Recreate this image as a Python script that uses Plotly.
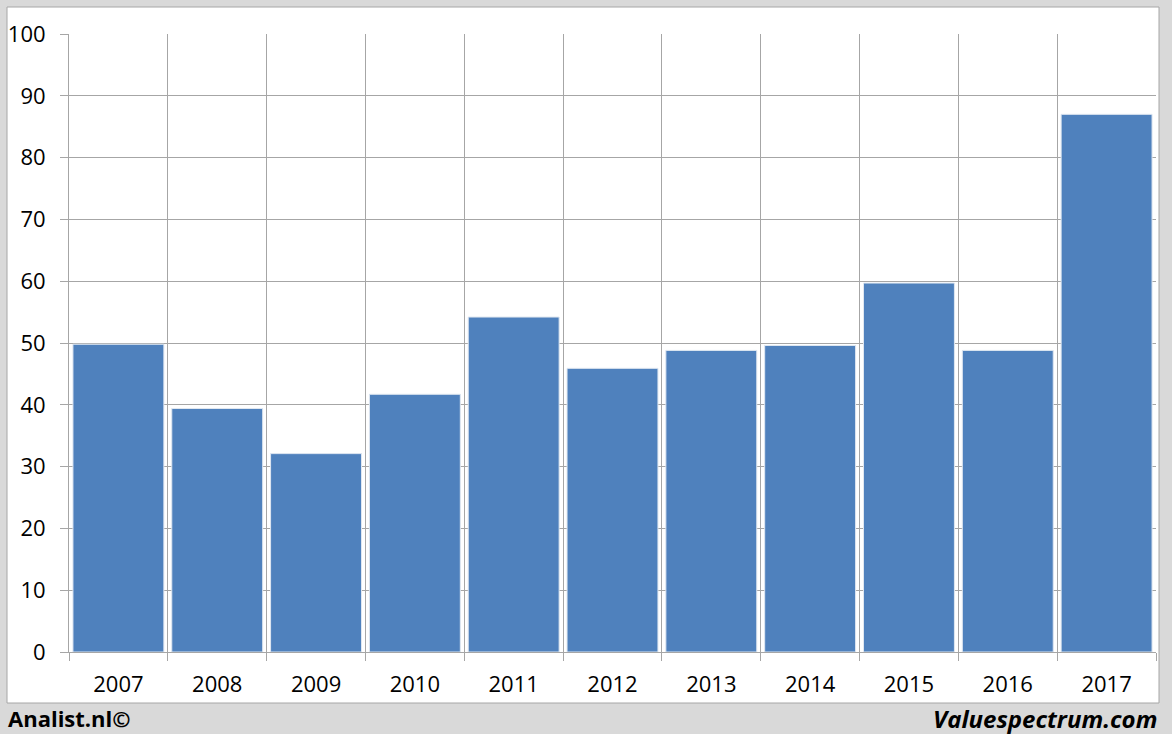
import plotly.graph_objects as go

years = ["2007", "2008", "2009", "2010", "2011", "2012", "2013", "2014", "2015", "2016", "2017"]
values = [49.8, 39.4, 32.1, 41.7, 54.2, 45.9, 48.8, 49.6, 59.7, 48.8, 87.0]
y_ticks = [0, 10, 20, 30, 40, 50, 60, 70, 80, 90, 100]

W, H = 1172, 734
L, R, T, B = 69, 1156, 34, 652
pw, ph = R - L, B - T

def px_x(p):
    return (p - L) / pw

def px_y(p):
    return (B - p) / ph

fig = go.Figure()
fig.add_trace(go.Bar(
    x=years, y=values,
    marker=dict(color="#4f81bd", line=dict(color="#dfe7f1", width=1)),
    hoverinfo="x+y",
))

fig.add_shape(type="rect", xref="paper", yref="paper",
              x0=px_x(7), x1=px_x(1159), y0=px_y(703), y1=px_y(7),
              fillcolor="white", line=dict(color="#a6a6a6", width=1), layer="below")

fig.add_annotation(text="<b>Analist.nl©</b>", xref="paper", yref="paper",
                   x=px_x(6), y=px_y(718), xanchor="left", yanchor="middle",
                   showarrow=False, font=dict(family="Open Sans", size=22, color="black"))
fig.add_annotation(text="<b><i>Valuespectrum.com</i></b>", xref="paper", yref="paper",
                   x=px_x(1159), y=px_y(718), xanchor="right", yanchor="middle",
                   showarrow=False, font=dict(family="Open Sans", size=24, color="black"))

fig.update_layout(
    width=W, height=H,
    margin=dict(l=L, r=W - R, t=T, b=H - B, pad=0, autoexpand=False),
    paper_bgcolor="#d9d9d9",
    plot_bgcolor="white",
    bargap=0.08,
    showlegend=False,
    font=dict(family="Open Sans", size=22, color="black"),
    xaxis=dict(
        type="category", tickson="boundaries", range=[-0.5, 10.5],
        showgrid=True, gridcolor="#a6a6a6", gridwidth=1,
        ticks="outside", ticklen=8, tickcolor="#a6a6a6",
        showline=True, linecolor="#a6a6a6", linewidth=1,
        ticklabelstandoff=13, zeroline=False, automargin=False,
    ),
    yaxis=dict(
        range=[0, 100], tickvals=y_ticks, ticktext=[str(v) for v in y_ticks],
        showgrid=True, gridcolor="#a6a6a6", gridwidth=1,
        ticks="outside", ticklen=8, tickcolor="#a6a6a6",
        showline=True, linecolor="#a6a6a6", linewidth=1,
        ticklabelstandoff=10, zeroline=False, automargin=False,
    ),
)

fig.write_html("out.html", config={"displayModeBar": False},
               post_script="document.body.style.margin='0';document.body.style.overflow='hidden';")
